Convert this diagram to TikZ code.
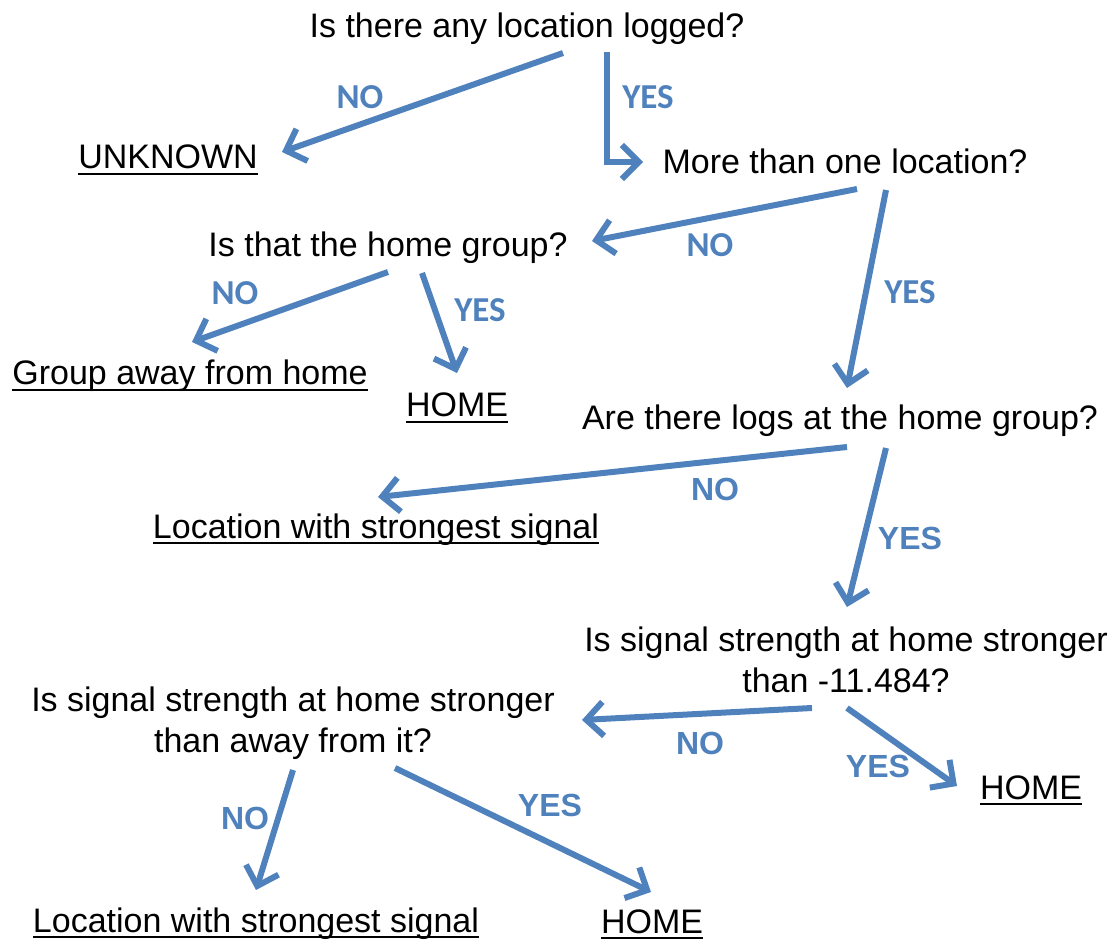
\documentclass[tikz,border=0pt]{standalone}
\usepackage{fontspec}
\setmainfont{Liberation Sans}
\newfontfamily\calfont{Carlito}
\usetikzlibrary{arrows.meta,calc}
\definecolor{arrowblue}{HTML}{4F81BD}
\newcommand\myul[1]{\setbox0\hbox{#1}\rlap{\rule[-6pt]{\wd0}{2pt}}\box0}
\begin{document}
\begin{tikzpicture}[x=1pt,y=-1pt,
  txt/.style={font=\fontsize{34}{41}\selectfont, inner sep=0pt, anchor=base, align=center},
  arr/.style={draw=arrowblue, line width=6pt, -{Straight Barb[length=17pt,width=34pt]}},
  labA/.style={text=arrowblue, font=\calfont\bfseries\fontsize{35}{35}\selectfont, inner sep=0pt},
  labB/.style={text=arrowblue, font=\bfseries\fontsize{32}{32}\selectfont, inner sep=0pt}]
\useasboundingbox (0,0) rectangle (1120,941);

\node[txt] (q1) at (527,38) {Is there any location logged?};
\node[txt] (unk) at (168,169) {\myul{UNKNOWN}};
\node[txt] (q2) at (845,174) {More than one location?};
\node[txt] (q3) at (388,257) {Is that the home group?};
\node[txt] (away) at (190,385) {\myul{Group away from home}};
\node[txt] (home1) at (457,417) {\myul{HOME}};
\node[txt] (q4) at (840,430) {Are there logs at the home group?};
\node[txt] (loc1) at (376,538) {\myul{Location with strongest signal}};
\node[txt] (q5) at (846,692) {Is signal strength at home stronger\\than -11.484?};
\node[txt] (home2) at (1031,799) {\myul{HOME}};
\node[txt] (q6) at (293,752) {Is signal strength at home stronger\\than away from it?};
\node[txt] (loc2) at (256,932) {\myul{Location with strongest signal}};
\node[txt] (home3) at (652,933) {\myul{HOME}};

\draw[arr] ($(q1.base)+(36,15)$) -- ($(unk.base)+(114,-17)$);
\draw[arr] ($(q1.base)+(80,14)$) |- ($(q2.base)+(-202,-12)$);
\draw[arr] ($(q2.base)+(12,15)$) -- ($(q3.base)+(204,-16)$);
\draw[arr] ($(q2.base)+(41,16)$) -- ($(q4.base)+(7,-42)$);
\draw[arr] ($(q3.base)+(0,15)$) -- ($(away.base)+(2,-43)$);
\draw[arr] ($(q3.base)+(34,16)$) -- ($(home1.base)+(0,-44)$);
\draw[arr] ($(q4.base)+(7,17)$) -- ($(loc1.base)+(2,-41)$);
\draw[arr] ($(q4.base)+(46,18)$) -- ($(q5.base)+(1,-85)$);
\draw[arr] ($(q5.base)+(-34,16)$) -- ($(q6.base)+(289,-32)$);
\draw[arr] ($(q5.base)+(1,16)$) -- ($(home2.base)+(-74,-13)$);
\draw[arr] ($(q6.base)+(0,18)$) -- ($(loc2.base)+(0,-42)$);
\draw[arr] ($(q6.base)+(102,16)$) -- ($(home3.base)+(-1,-41)$);

\node[labA] (n1) at (360,97) {NO};
\node[labA] (y1) at (648,97) {YES};
\node[labA] (n2) at (710,245) {NO};
\node[labA] (y2) at (910,292) {YES};
\node[labA] (n3) at (235,293) {NO};
\node[labA] (y3) at (480,310) {YES};
\node[labB] (n4) at (715,489) {NO};
\node[labB] (y4) at (910,538) {YES};
\node[labB] (n5) at (700,743) {NO};
\node[labB] (y5) at (878,766) {YES};
\node[labB] (n6) at (245,818) {NO};
\node[labB] (y6) at (550,805) {YES};
\end{tikzpicture}
\end{document}
